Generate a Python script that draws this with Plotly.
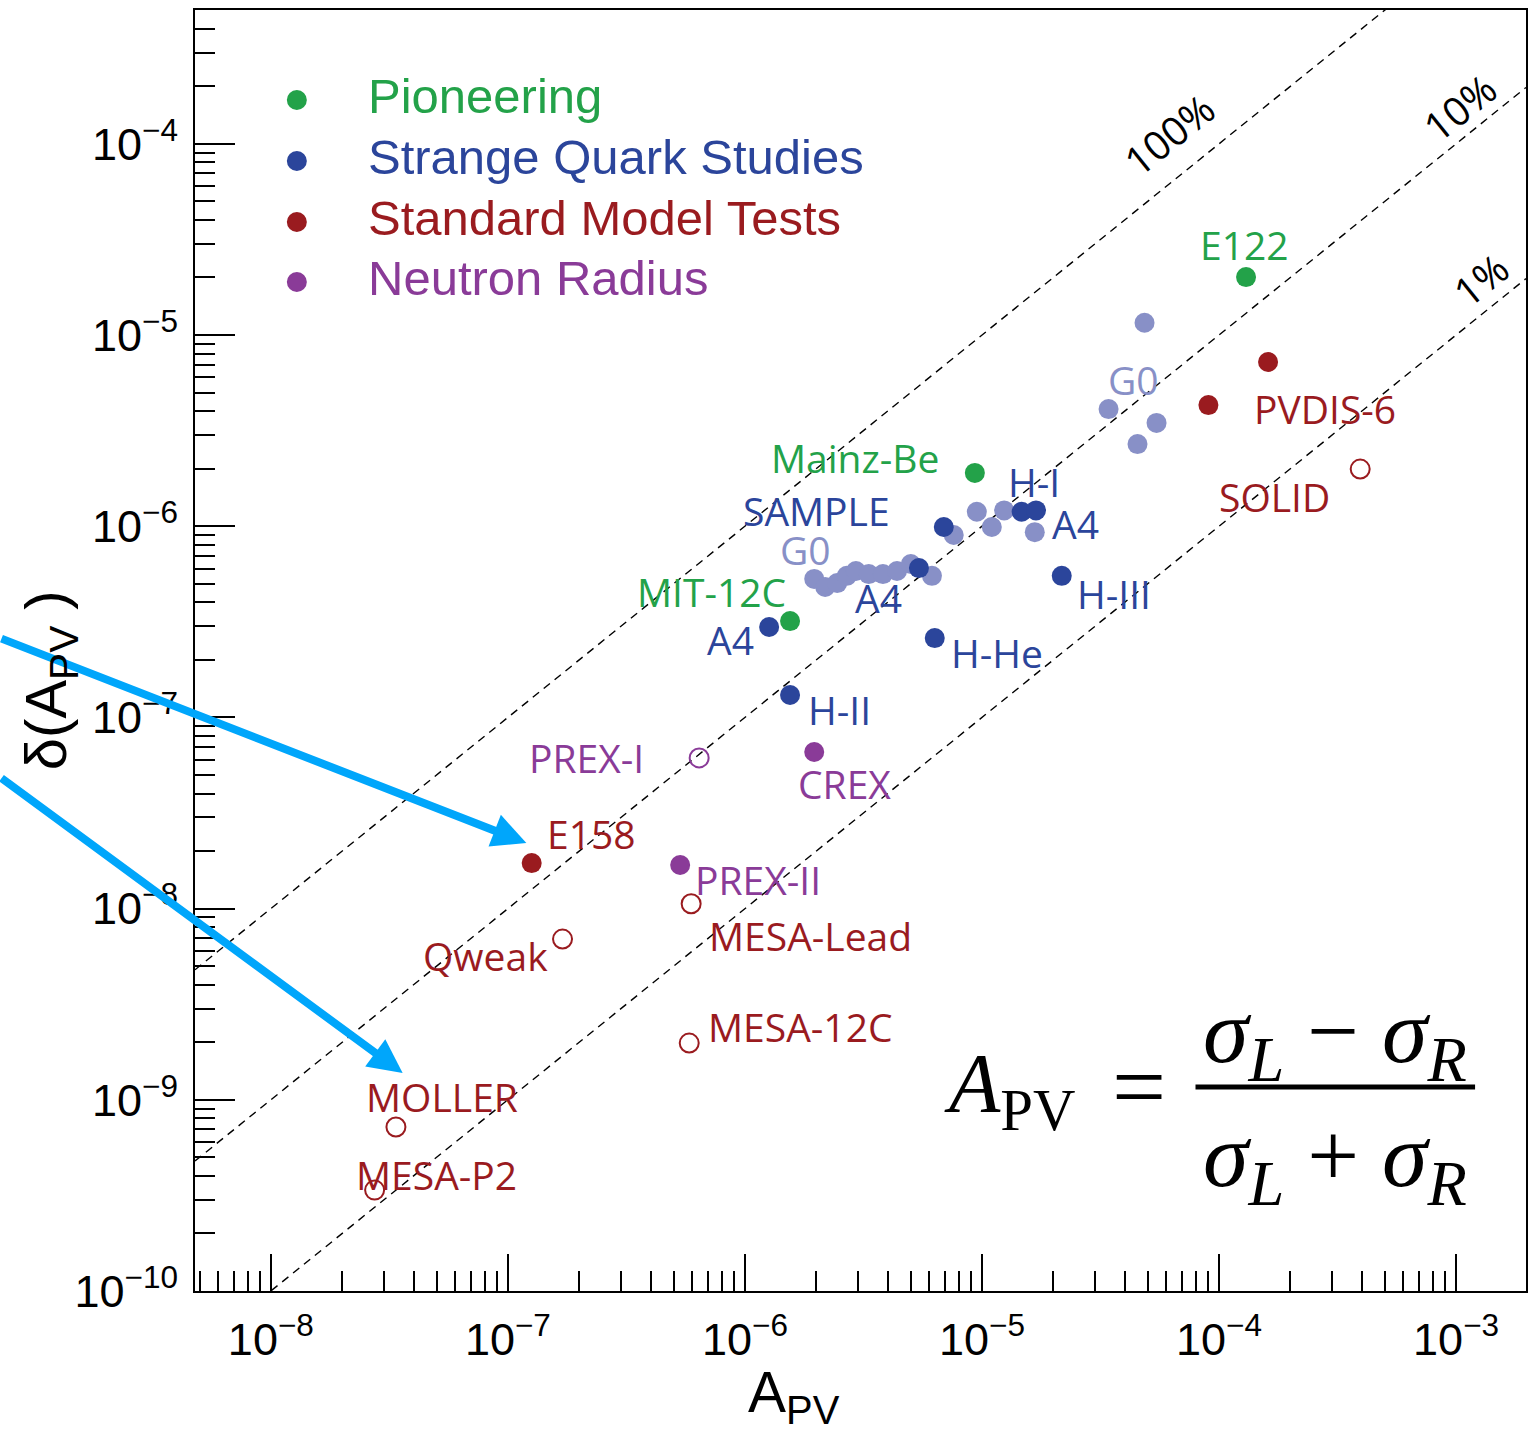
import numpy as np
import plotly.graph_objects as go

# ---------------- data: parity-violating asymmetry vs. its uncertainty ----------------
# Pioneering experiments (filled)
pioneer_names = ["E122", "Mainz-Be", "MIT-12C"]
pioneer_apv = [1.30e-4, 9.33e-6, 1.55e-6]
pioneer_dapv = [2.01e-5, 1.90e-6, 3.19e-7]

# Strange quark studies (filled, dark)
strange_names = ["SAMPLE", "A4", "A4", "H-I", "A4", "H-III", "H-He", "H-II"]
strange_apv = [6.90e-6, 1.265e-6, 5.42e-6, 1.47e-5, 1.69e-5, 2.17e-5, 6.32e-6, 1.55e-6]
strange_dapv = [9.91e-7, 2.97e-7, 6.04e-7, 1.19e-6, 1.21e-6, 5.50e-7, 2.60e-7, 1.31e-7]

# G0 measurements (strange quark studies, light)
g0_apv = [1.96e-6, 2.18e-6, 2.45e-6, 2.69e-6, 2.94e-6, 3.33e-6, 3.82e-6, 4.38e-6,
          5.01e-6, 6.15e-6, 7.60e-6, 9.51e-6, 1.10e-5, 1.24e-5, 1.67e-5,
          4.85e-5, 3.42e-5, 5.45e-5, 4.53e-5]
g0_dapv = [5.30e-7, 4.81e-7, 5.04e-7, 5.50e-7, 5.83e-7, 5.62e-7, 5.62e-7, 5.83e-7,
           6.34e-7, 5.50e-7, 9.00e-7, 1.19e-6, 9.91e-7, 1.21e-6, 9.31e-7,
           1.16e-5, 4.10e-6, 3.47e-6, 2.69e-6]

# Standard Model tests: completed (filled) and planned (open)
sm_done_names = ["E158", "PVDIS-6", "PVDIS-6"]
sm_done_apv = [1.26e-7, 9.02e-5, 1.61e-4]
sm_done_dapv = [1.73e-8, 4.30e-6, 7.23e-6]

sm_open_names = ["SOLID", "Qweak", "MESA-Lead", "MESA-12C", "MOLLER", "MESA-P2"]
sm_open_apv = [3.94e-4, 1.70e-7, 5.93e-7, 5.82e-7, 3.37e-8, 2.74e-8]
sm_open_dapv = [1.99e-6, 6.93e-9, 1.06e-8, 1.98e-9, 7.21e-10, 3.37e-10]

# Neutron radius: completed (filled) and open
nr_done_names = ["CREX", "PREX-II"]
nr_done_apv = [1.96e-6, 5.33e-7]
nr_done_dapv = [6.59e-8, 1.69e-8]

nr_open_names = ["PREX-I"]
nr_open_apv = [6.41e-7]
nr_open_dapv = [6.14e-8]

# relative-precision guide lines: dA = fraction * A
guide_fractions = [1.0, 0.1, 0.01]
guide_labels = ["100%", "10%", "1%"]

legend_names = ["Pioneering", "Strange Quark Studies", "Standard Model Tests", "Neutron Radius"]

x_tickvals = [1e-8, 1e-7, 1e-6, 1e-5, 1e-4, 1e-3]
y_tickvals = [1e-10, 1e-9, 1e-8, 1e-7, 1e-6, 1e-5, 1e-4]

# ---------------- styling ----------------
GREEN = "#23a249"
BLUE = "#2b459b"
LIGHT = "#8890c7"
RED = "#9a1b1f"
PURPLE = "#8a3b98"
ARROW = "#00a6fb"
legend_colors = [GREEN, BLUE, RED, PURPLE]

W, H = 1534, 1433
ML, MR, MT, MB = 195, 6, 10, 142
X_RANGE = [-8.32, -2.705]
Y_RANGE = [-10.0, -3.30]

LABEL_FONT = "Open Sans"
AXIS_FONT = "Liberation Sans"
MATH_FONT = "Liberation Serif"


def paper_x(px):
    return (px - ML) / (W - ML - MR)


def paper_y(py):
    return (H - MB - py) / (H - MT - MB)


def sup_label(v):
    e = int(round(np.log10(v)))
    return "10<sup>\u2212%d</sup>" % (-e)


fig = go.Figure()

# guide lines
x_span = np.array([10 ** X_RANGE[0], 10 ** X_RANGE[1]])
for f in guide_fractions:
    fig.add_trace(go.Scatter(
        x=x_span, y=f * x_span, mode="lines", hoverinfo="skip", showlegend=False,
        line=dict(color="black", width=1.4, dash="8px,6px"),
    ))


def add_points(x, y, names, color, filled=True):
    if filled:
        marker = dict(size=20, color=color, symbol="circle", line=dict(width=0))
    else:
        marker = dict(size=19, color=color, symbol="circle-open", line=dict(width=2, color=color))
    fig.add_trace(go.Scatter(x=x, y=y, text=names, mode="markers", marker=marker,
                             showlegend=False, hovertemplate="%{text}<extra></extra>"))


add_points(g0_apv, g0_dapv, ["G0"] * len(g0_apv), LIGHT)
add_points(strange_apv, strange_dapv, strange_names, BLUE)
add_points(pioneer_apv, pioneer_dapv, pioneer_names, GREEN)
add_points(sm_done_apv, sm_done_dapv, sm_done_names, RED)
add_points(sm_open_apv, sm_open_dapv, sm_open_names, RED, filled=False)
add_points(nr_done_apv, nr_done_dapv, nr_done_names, PURPLE)
add_points(nr_open_apv, nr_open_dapv, nr_open_names, PURPLE, filled=False)

annotations = []
shapes = []

# experiment labels: text, colour, position in log10 axis units
labels = [
    ("E122", GREEN, -3.893, -4.529),
    ("Mainz-Be", GREEN, -5.536, -5.643),
    ("MIT-12C", GREEN, -6.142, -6.344),
    ("SAMPLE", BLUE, -5.700, -5.920),
    ("G0", LIGHT, -5.746, -6.124),
    ("A4", BLUE, -5.435, -6.375),
    ("A4", BLUE, -6.062, -6.595),
    ("H-I", BLUE, -4.782, -5.764),
    ("A4", BLUE, -4.605, -5.984),
    ("H-III", BLUE, -4.445, -6.350),
    ("H-He", BLUE, -4.938, -6.663),
    ("H-II", BLUE, -5.603, -6.961),
    ("G0", LIGHT, -4.361, -5.235),
    ("PVDIS-6", RED, -3.552, -5.382),
    ("SOLID", RED, -3.767, -5.842),
    ("PREX-I", PURPLE, -6.669, -7.207),
    ("CREX", PURPLE, -5.582, -7.343),
    ("E158", RED, -6.648, -7.605),
    ("PREX-II", PURPLE, -5.944, -7.850),
    ("MESA-Lead", RED, -5.725, -8.138),
    ("Qweak", RED, -7.094, -8.243),
    ("MESA-12C", RED, -5.767, -8.619),
    ("MOLLER", RED, -7.280, -8.985),
    ("MESA-P2", RED, -7.301, -9.393),
]
for text, color, lx, ly in labels:
    annotations.append(dict(
        x=lx, y=ly, xref="x", yref="y", text=text, showarrow=False,
        xanchor="center", yanchor="middle",
        font=dict(family=LABEL_FONT, size=39, color=color),
    ))

# guide line labels, rotated along the lines
guide_label_pos = [(-4.213, -3.949), (-2.987, -3.808), (-2.895, -4.712)]
slope_deg = np.degrees(np.arctan((191.2) / (237.4)))
for text, (lx, ly) in zip(guide_labels, guide_label_pos):
    annotations.append(dict(
        x=lx, y=ly, xref="x", yref="y", text=text, showarrow=False,
        textangle=-slope_deg, font=dict(family=LABEL_FONT, size=40, color="black"),
    ))

# highlight arrows, entering from the left edge of the figure
for (tx, ty, ax, ay) in [(-6.922, -7.657, -527, -205), (-7.444, -8.860, -403, -296)]:
    annotations.append(dict(
        x=tx, y=ty, xref="x", yref="y", ax=ax, ay=ay, axref="pixel", ayref="pixel",
        text="", showarrow=True, arrowhead=2, arrowsize=0.85, arrowwidth=8,
        arrowcolor=ARROW, standoff=0,
    ))

# legend
legend_rows = [100, 161, 222, 282]
for name, color, row in zip(legend_names, legend_colors, legend_rows):
    shapes.append(dict(
        type="circle", xref="paper", yref="paper", xsizemode="pixel", ysizemode="pixel",
        xanchor=paper_x(297), yanchor=paper_y(row), x0=-10, x1=10, y0=-10, y1=10,
        fillcolor=color, line=dict(width=0),
    ))
    annotations.append(dict(
        x=paper_x(366), y=paper_y(row - 4), xref="paper", yref="paper", text=name,
        showarrow=False, xanchor="left", yanchor="middle",
        font=dict(family=AXIS_FONT, size=49, color=color),
    ))

# axis titles
annotations.append(dict(
    x=paper_x(795), y=paper_y(1396), xref="paper", yref="paper",
    text="A<sub>PV</sub>", showarrow=False, xanchor="center", yanchor="middle",
    font=dict(family=AXIS_FONT, size=57, color="black"),
))
annotations.append(dict(
    x=paper_x(50), y=paper_y(680), xref="paper", yref="paper",
    text="\u03b4(A<sub>PV</sub> )", showarrow=False, textangle=-90,
    xanchor="center", yanchor="middle",
    font=dict(family=AXIS_FONT, size=58, color="black"),
))

# defining formula
annotations.append(dict(
    x=paper_x(943), y=paper_y(1090), xref="paper", yref="paper",
    text="<i>A</i><sub>PV</sub>", showarrow=False, xanchor="left", yanchor="middle",
    font=dict(family=MATH_FONT, size=84, color="black"),
))
annotations.append(dict(
    x=paper_x(1140), y=paper_y(1086), xref="paper", yref="paper",
    text="=", showarrow=False, xanchor="center", yanchor="middle",
    font=dict(family=MATH_FONT, size=96, color="black"),
))
frac_font = dict(family=MATH_FONT, size=92, color="black")
annotations.append(dict(
    x=paper_x(1337), y=paper_y(1037), xref="paper", yref="paper",
    text="<i>\u03c3</i><sub><i>L</i></sub> \u2212 <i>\u03c3</i><sub><i>R</i></sub>",
    showarrow=False, xanchor="center", yanchor="middle", font=frac_font,
))
annotations.append(dict(
    x=paper_x(1337), y=paper_y(1161), xref="paper", yref="paper",
    text="<i>\u03c3</i><sub><i>L</i></sub> + <i>\u03c3</i><sub><i>R</i></sub>",
    showarrow=False, xanchor="center", yanchor="middle", font=frac_font,
))
shapes.append(dict(
    type="line", xref="paper", yref="paper",
    x0=paper_x(1197), x1=paper_x(1477), y0=paper_y(1087), y1=paper_y(1087),
    line=dict(color="black", width=5),
))

axis_common = dict(
    type="log", showline=True, linecolor="black", linewidth=2, mirror=True,
    ticks="inside", tickcolor="black", tickwidth=1.5,
    showgrid=False, zeroline=False,
    tickfont=dict(family=AXIS_FONT, size=45, color="black"),
    minor=dict(ticks="inside", ticklen=20, tickcolor="black", tickwidth=1.5,
               dtick="D1", showgrid=False),
)

fig.update_layout(
    width=W, height=H,
    margin=dict(l=ML, r=MR, t=MT, b=MB),
    paper_bgcolor="white", plot_bgcolor="white",
    showlegend=False,
    xaxis=dict(axis_common, range=X_RANGE, ticklen=37,
               tickvals=x_tickvals, ticktext=[sup_label(v) for v in x_tickvals],
               ticklabelstandoff=8),
    yaxis=dict(axis_common, range=Y_RANGE, ticklen=40,
               tickvals=y_tickvals, ticktext=[sup_label(v) for v in y_tickvals],
               ticklabelstandoff=6),
    annotations=annotations,
    shapes=shapes,
)

fig.write_html("out.html")
